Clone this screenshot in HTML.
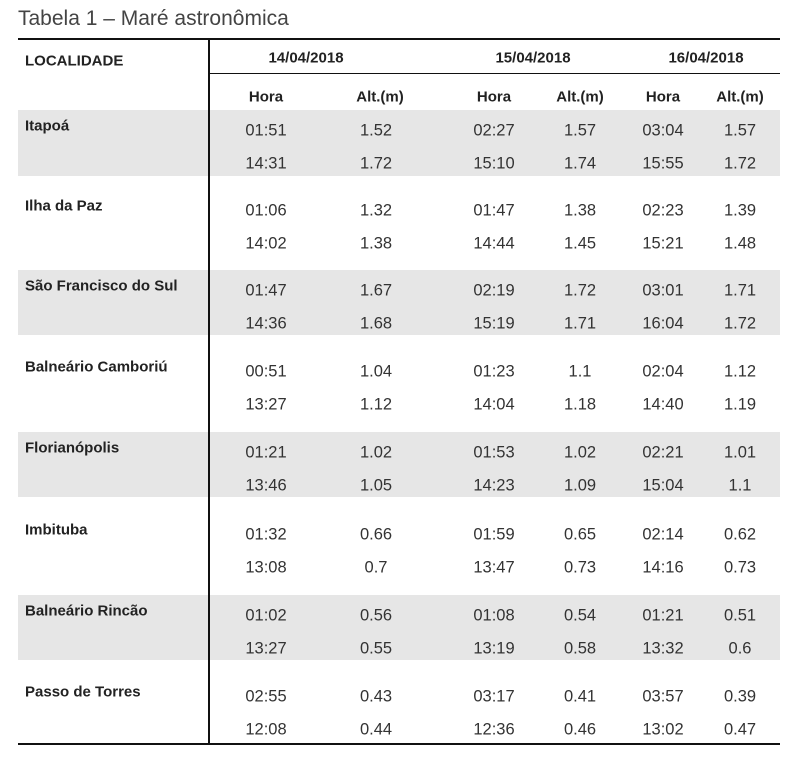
<!DOCTYPE html>
<html><head><meta charset="utf-8"><style>
body{margin:0;width:800px;height:771px;background:#fff;position:relative;font-family:"Liberation Sans",sans-serif;color:#333;overflow:hidden}
div{position:absolute}
.t{font-size:16.5px;transform:translateY(-50%);white-space:nowrap}
.c{transform:translate(-50%,-50%)}
.b{font-weight:bold;color:#222;font-size:15px}
.band{background:#e6e6e6;left:18px;width:762px}
</style></head><body>
<div style="left:18px;top:7px;font-size:21px;color:#444">Tabela 1 – Maré astronômica</div>
<div class="band" style="top:110px;height:66px"></div>
<div class="band" style="top:270px;height:65px"></div>
<div class="band" style="top:432px;height:65px"></div>
<div class="band" style="top:595px;height:65px"></div>
<div style="left:18px;top:38px;width:762px;height:2px;background:#111"></div>
<div style="left:18px;top:743px;width:762px;height:2px;background:#111"></div>
<div style="left:208px;top:39px;width:2px;height:705px;background:#111"></div>
<div style="left:209px;top:73px;width:571px;height:1px;background:#111"></div>
<div class="t b" style="left:25px;top:61px">LOCALIDADE</div>
<div class="t b c" style="left:306px;top:58px">14/04/2018</div>
<div class="t b c" style="left:533px;top:58px">15/04/2018</div>
<div class="t b c" style="left:706px;top:58px">16/04/2018</div>
<div class="t b c" style="left:266px;top:97px">Hora</div>
<div class="t b c" style="left:380px;top:97px">Alt.(m)</div>
<div class="t b c" style="left:494px;top:97px">Hora</div>
<div class="t b c" style="left:580px;top:97px">Alt.(m)</div>
<div class="t b c" style="left:663px;top:97px">Hora</div>
<div class="t b c" style="left:740px;top:97px">Alt.(m)</div>
<script>
var d=[["Itapoá",110,["01:51","1.52","02:27","1.57","03:04","1.57"],["14:31","1.72","15:10","1.74","15:55","1.72"]],
["Ilha da Paz",190,["01:06","1.32","01:47","1.38","02:23","1.39"],["14:02","1.38","14:44","1.45","15:21","1.48"]],
["São Francisco do Sul",270,["01:47","1.67","02:19","1.72","03:01","1.71"],["14:36","1.68","15:19","1.71","16:04","1.72"]],
["Balneário Camboriú",351,["00:51","1.04","01:23","1.1","02:04","1.12"],["13:27","1.12","14:04","1.18","14:40","1.19"]],
["Florianópolis",432,["01:21","1.02","01:53","1.02","02:21","1.01"],["13:46","1.05","14:23","1.09","15:04","1.1"]],
["Imbituba",514,["01:32","0.66","01:59","0.65","02:14","0.62"],["13:08","0.7","13:47","0.73","14:16","0.73"]],
["Balneário Rincão",595,["01:02","0.56","01:08","0.54","01:21","0.51"],["13:27","0.55","13:19","0.58","13:32","0.6"]],
["Passo de Torres",676,["02:55","0.43","03:17","0.41","03:57","0.39"],["12:08","0.44","12:36","0.46","13:02","0.47"]]];
var xs=[266,376,494,580,663,740],h="";
d.forEach(function(g){var y=g[1];
h+='<div class="t b" style="left:25px;top:'+(y+16)+'px">'+g[0]+'</div>';
[g[2],g[3]].forEach(function(r,i){r.forEach(function(v,j){h+='<div class="t c" style="left:'+xs[j]+'px;top:'+(y+21+i*33)+'px">'+v+'</div>';});});});
document.write(h);
</script>
</body></html>
